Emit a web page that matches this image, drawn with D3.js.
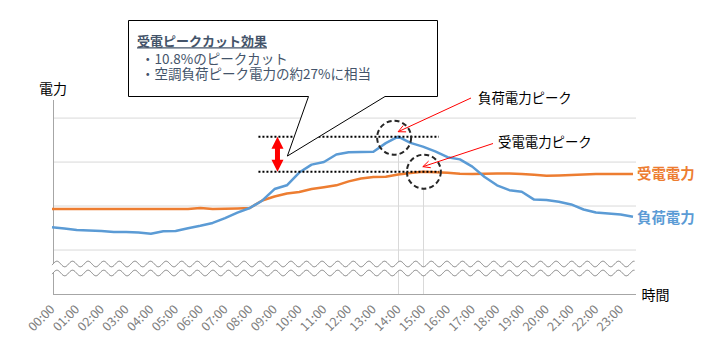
<!DOCTYPE html>
<html><head><meta charset="utf-8">
<script src="https://cdn.jsdelivr.net/npm/d3@7/dist/d3.min.js"></script>
<style>body{margin:0;background:#fff}svg{display:block}</style>
</head><body><svg id="c" width="711" height="360"></svg>
<script>
// ---------- data ----------
const times = ["00:00","00:30","01:00","01:30","02:00","02:30","03:00","03:30","04:00","04:30","05:00","05:30",
"06:00","06:30","07:00","07:30","08:00","08:30","09:00","09:30","10:00","10:30","11:00","11:30",
"12:00","12:30","13:00","13:30","14:00","14:30","15:00","15:30","16:00","16:30","17:00","17:30",
"18:00","18:30","19:00","19:30","20:00","20:30","21:00","21:30","22:00","22:30","23:00","23:30"];
const loadPower = [301,296,289,287,284,280,280,277,272,283,284,297,308,321,343,368,389,422,475,492,550,586,598,632,
642,643,645,684,713,685,668,646,620,610,577,530,492,470,463,427,425,417,405,382,368,364,359,349];
const receivedPower = [384,384,384,384,384,384,384,384,384,384,384,384,389,384,385,387,389,423,441,455,462,475,483,492,
510,523,530,531,541,548,554,551,549,545,543,545,546,546,543,540,536,537,539,541,543,543,543,543];
const tickLabels = ["00:00","01:00","02:00","03:00","04:00","05:00","06:00","07:00","08:00","09:00","10:00","11:00",
"12:00","13:00","14:00","15:00","16:00","17:00","18:00","19:00","20:00","21:00","22:00","23:00"];
const gridValues = [200,400,600,800];
const seriesNames = ["受電電力","負荷電力"];
const axisTitles = ["電力","時間"];
const calloutTitle = "受電ピークカット効果";
const calloutLines = ["・10.8%のピークカット","・空調負荷ピーク電力の約27%に相当"];
const peakLabels = ["負荷電力ピーク","受電電力ピーク"];
const peakTimes = ["14:00","15:00"];

// ---------- setup ----------
const svg = d3.select("#c");
const JP = "'Noto Sans CJK JP','Noto Sans',sans-serif";
const BLUE = "#5B9BD5", ORANGE = "#ED7D31";
const toH = s => { const [h,m] = s.split(":"); return +h + (+m)/60; };
const x = d3.scaleLinear().domain([0, 23.5]).range([52, 633]);
const y = d3.scaleLinear().domain([0, 880]).range([293.5, 100]);
const X0 = 53, X1 = 636, YB = 294, YT = 100;

// gridlines
const g = svg.append("g").attr("transform", `translate(${X0},0)`)
  .call(d3.axisLeft(y).tickValues(gridValues).tickSize(-(X1 - X0)).tickFormat(""));
g.select(".domain").remove();
g.selectAll(".tick line").attr("stroke", "#d9d9d9").attr("stroke-width", 1);

// circles geometry
const peakLoad = d3.max(loadPower), peakRecv = d3.max(receivedPower);
const circ = [
  {cx: x(toH(peakTimes[0])) - 4, cy: y(peakLoad) + 1, r: 17},
  {cx: x(toH(peakTimes[1])) + 1, cy: y(peakRecv), r: 17}
];
// vertical marker lines
peakTimes.forEach((t, i) => {
  svg.append("line").attr("x1", Math.round(x(toH(t))) + 0.5).attr("x2", Math.round(x(toH(t))) + 0.5)
    .attr("y1", circ[i].cy + circ[i].r).attr("y2", YB)
    .attr("stroke", "#d9d9d9").attr("stroke-width", 1);
});

// axis lines
svg.append("line").attr("x1", X0 + 0.5).attr("x2", X0 + 0.5).attr("y1", YT).attr("y2", YB)
  .attr("stroke", "#a6a6a6").attr("stroke-width", 1);
svg.append("line").attr("x1", X0).attr("x2", X1).attr("y1", YB + 0.5).attr("y2", YB + 0.5)
  .attr("stroke", "#a6a6a6").attr("stroke-width", 1);

// axis break waves
const P = 15.6, A = 2.8;
const wave = (cy) => d3.range(X0 - 1, X1 - 1, 0.5).map(px => [px, cy + A * Math.sin(2 * Math.PI * (px - X0) / P + Math.PI)]);
const w1 = wave(264), w2 = wave(273);
svg.append("path").attr("d", d3.line()(w1.concat(w2.slice().reverse())) + "Z").attr("fill", "#fff");
[w1, w2].forEach(w => svg.append("path").attr("d", d3.line()(w)).attr("fill", "none")
  .attr("stroke", "#808080").attr("stroke-width", 1));

// x axis labels
const xa = svg.append("g").attr("transform", `translate(0,${YB})`)
  .call(d3.axisBottom(x).tickValues(tickLabels.map(toH)).tickSize(0).tickFormat((d, i) => tickLabels[i]));
xa.select(".domain").remove();
xa.selectAll("text").attr("fill", "#808080").attr("font-family", JP).attr("font-size", 12.5)
  .attr("text-anchor", "end").attr("dy", null).attr("y", null)
  .attr("transform", function(d) { return `translate(3,16) rotate(-45)`; });

// circle white fills
circ.forEach(c => svg.append("circle").attr("cx", c.cx).attr("cy", c.cy).attr("r", c.r).attr("fill", "#fff"));

// series
const line = d3.line().x((d, i) => x(toH(times[i]))).y(d => y(d));
svg.append("path").datum(receivedPower).attr("d", line).attr("fill", "none")
  .attr("stroke", ORANGE).attr("stroke-width", 2.5).attr("stroke-linejoin", "round");
svg.append("path").datum(loadPower).attr("d", line).attr("fill", "none")
  .attr("stroke", BLUE).attr("stroke-width", 2.5).attr("stroke-linejoin", "round");

// dotted peak lines
[peakLoad, peakRecv].forEach(v => svg.append("line")
  .attr("x1", x(8.35)).attr("x2", x(15.65)).attr("y1", y(v)).attr("y2", y(v))
  .attr("stroke", "#000").attr("stroke-width", 2).attr("stroke-dasharray", "2 2"));

// red double arrow
(() => {
  const ax = x(9.12), t = y(peakLoad), b = y(peakRecv), hw = 6, hh = 12, sw = 2.5;
  svg.append("path").attr("fill", "#ff0000").attr("d",
    `M${ax},${t} L${ax + hw},${t + hh} L${ax + sw},${t + hh} L${ax + sw},${b - hh} L${ax + hw},${b - hh}
     L${ax},${b} L${ax - hw},${b - hh} L${ax - sw},${b - hh} L${ax - sw},${t + hh} L${ax - hw},${t + hh} Z`);
})();

// dashed circles
circ.forEach(c => svg.append("circle").attr("cx", c.cx).attr("cy", c.cy).attr("r", c.r)
  .attr("fill", "none").attr("stroke", "#262626").attr("stroke-width", 2).attr("stroke-dasharray", "5 3"));

// red thin arrows
function arrow(x1, y1, x2, y2) {
  svg.append("line").attr("x1", x1).attr("y1", y1).attr("x2", x2).attr("y2", y2)
    .attr("stroke", "#ff0000").attr("stroke-width", 1);
  const ang = Math.atan2(y2 - y1, x2 - x1), L = 8, s = 0.45;
  svg.append("path").attr("fill", "none").attr("stroke", "#ff0000").attr("stroke-width", 1)
    .attr("d", `M${x2 - L * Math.cos(ang - s)},${y2 - L * Math.sin(ang - s)} L${x2},${y2} L${x2 - L * Math.cos(ang + s)},${y2 - L * Math.sin(ang + s)}`);
}
arrow(471, 98, circ[0].cx + 4, circ[0].cy - 6);
arrow(493, 143.5, circ[1].cx - 1, circ[1].cy - 5);

// peak labels
svg.append("text").attr("x", 478).attr("y", 103).text(peakLabels[0])
  .attr("font-family", JP).attr("font-size", 13.4).attr("fill", "#000");
svg.append("text").attr("x", 498).attr("y", 146.5).text(peakLabels[1])
  .attr("font-family", JP).attr("font-size", 13.4).attr("fill", "#000");

// series labels
svg.append("text").attr("x", 637).attr("y", y(receivedPower[receivedPower.length - 1]) + 5).text(seriesNames[0])
  .attr("font-family", JP).attr("font-size", 14.4).attr("font-weight", "bold").attr("fill", ORANGE);
svg.append("text").attr("x", 637).attr("y", y(loadPower[loadPower.length - 1]) + 6).text(seriesNames[1])
  .attr("font-family", JP).attr("font-size", 14.4).attr("font-weight", "bold").attr("fill", BLUE);

// axis titles
svg.append("text").attr("x", 39).attr("y", 93.5).text(axisTitles[0])
  .attr("font-family", JP).attr("font-size", 14).attr("fill", "#000");
svg.append("text").attr("x", 641.5).attr("y", 299.5).text(axisTitles[1])
  .attr("font-family", JP).attr("font-size", 14).attr("fill", "#000");

// callout
const tipX = x(9.52), tipY = y(625);
svg.append("path").attr("fill", "#fff").attr("stroke", "#000").attr("stroke-width", 1)
  .attr("d", `M128.5,20.5 H437.5 V96.5 H385 L${tipX},${tipY} L308.5,96.5 H128.5 Z`);
const tt = svg.append("text").attr("x", 137).attr("y", 45.5).text(calloutTitle)
  .attr("font-family", JP).attr("font-size", 13).attr("font-weight", "bold").attr("fill", "#44546A");
const tw = tt.node().getComputedTextLength();
svg.append("line").attr("x1", 137).attr("x2", 137 + tw).attr("y1", 47.8).attr("y2", 47.8)
  .attr("stroke", "#44546A").attr("stroke-width", 1.2);
calloutLines.forEach((s, i) => svg.append("text").attr("x", 141).attr("y", 64 + i * 15).text(s)
  .attr("font-family", JP).attr("font-size", 13.5).attr("fill", "#44546A"));
</script></body></html>
